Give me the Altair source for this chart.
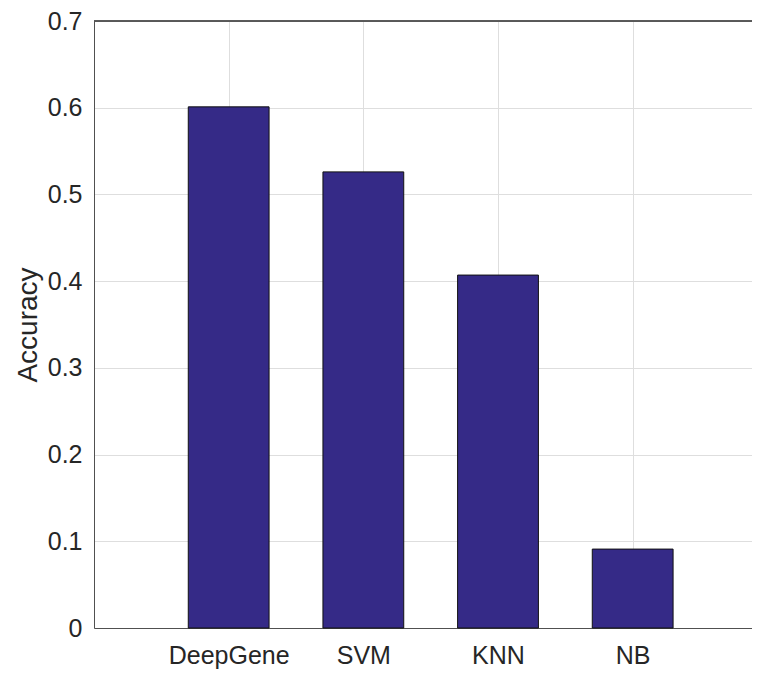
import altair as alt
import pandas as pd

categories = ["DeepGene", "SVM", "KNN", "NB"]
positions = [1, 2, 3, 4]
accuracy = [0.601, 0.526, 0.407, 0.091]

df = pd.DataFrame({"method": categories, "pos": positions, "acc": accuracy})

W = 658
H = 607
XMAX = W / 134.67
FONT = "Liberation Sans"
TXT = "#262626"
AX = "#505050"
GRID = "#dedede"

label_expr = "[" + ",".join("'%s'" % c for c in categories) + "][datum.value - 1]"

bars = alt.Chart(df).transform_calculate(
    x0="datum.pos - 0.3", x1="datum.pos + 0.3"
).mark_bar(color="#352a87", stroke="#111111", strokeWidth=1).encode(
    x=alt.X("x0:Q", scale=alt.Scale(domain=[0, XMAX], nice=False, zero=False),
            axis=alt.Axis(values=positions, labelExpr=label_expr, title=None,
                          grid=True, gridColor=GRID, ticks=False,
                          domainColor=AX, labelFontSize=25, labelFont=FONT,
                          labelColor=TXT, labelPadding=15)),
    x2="x1:Q",
    y=alt.Y("acc:Q", scale=alt.Scale(domain=[0, 0.7], nice=False),
            axis=alt.Axis(values=[0, 0.1, 0.2, 0.3, 0.4, 0.5, 0.6, 0.7],
                          format="~g", title="Accuracy", titleFontSize=28,
                          titleFont=FONT, titleColor=TXT, titleFontWeight="normal",
                          titleX=-52, titleY=H / 2, titleBaseline="bottom",
                          grid=True, gridColor=GRID, ticks=False,
                          domainColor=AX, labelFontSize=25, labelFont=FONT,
                          labelColor=TXT, labelPadding=12)),
    y2=alt.datum(0),
)

top = alt.Chart(df).mark_rule(color=AX, strokeWidth=1).encode(
    x=alt.value(0), x2=alt.value(W), y=alt.value(0)
)

chart = alt.layer(bars, top).properties(
    width=W, height=H,
    autosize=alt.AutoSizeParams(type="none"),
    padding={"left": 86, "top": 13, "right": 0, "bottom": 41},
).configure_view(stroke=None).configure(background="white")

chart.save("out.html", embed_options={"renderer": "svg", "actions": False})
